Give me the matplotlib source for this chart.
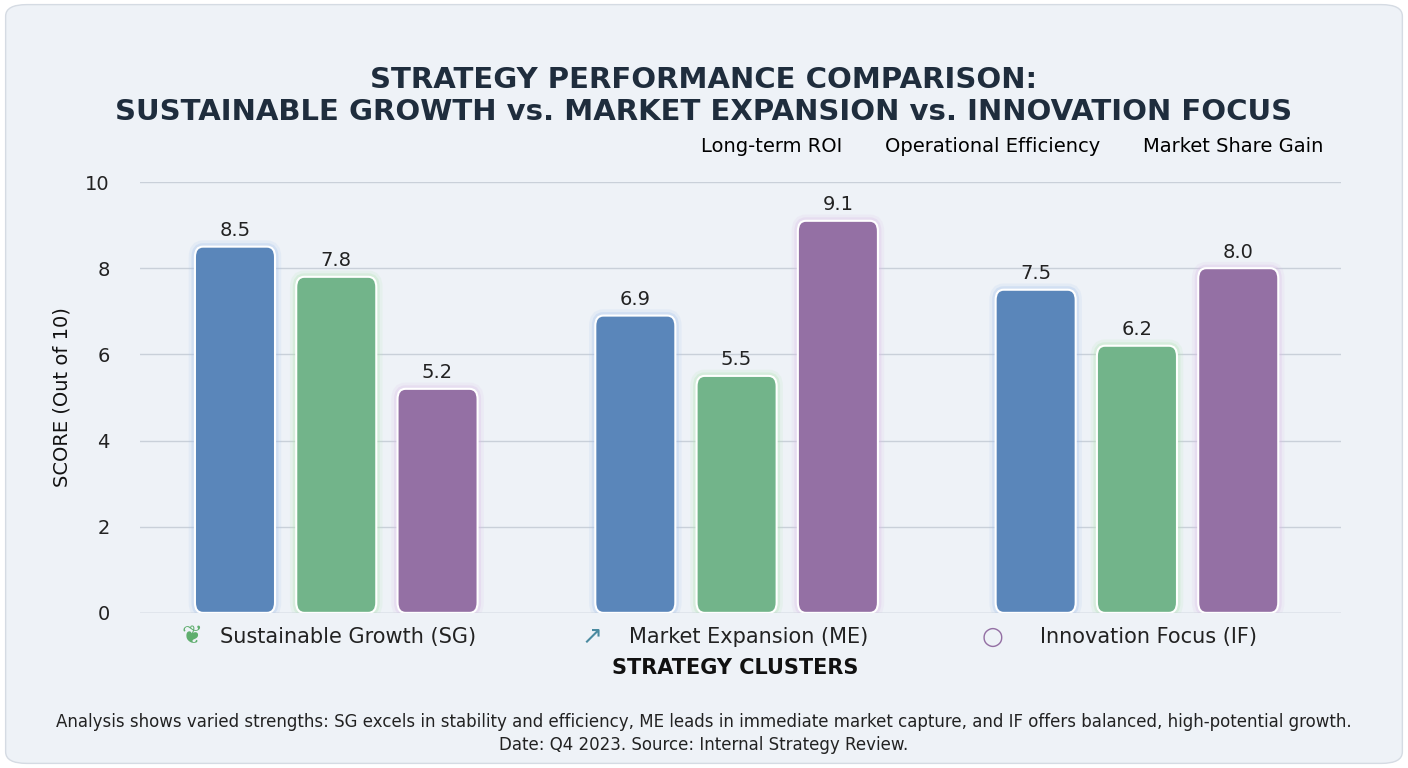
import matplotlib.pyplot as plt
from matplotlib.patches import FancyBboxPatch
import numpy as np

# data
clusters = ["Sustainable Growth (SG)", "Market Expansion (ME)", "Innovation Focus (IF)"]
series = ["Long-term ROI", "Operational Efficiency", "Market Share Gain"]
roi = [8.5, 6.9, 7.5]
efficiency = [7.8, 5.5, 6.2]
share = [5.2, 9.1, 8.0]
colors = ["#5a86ba", "#72b48a", "#9470a4"]
glows = ["#a9c4ee", "#b5e6b5", "#dcbfe8"]

bg = "#eef2f7"
fig = plt.figure(figsize=(14.08, 7.68), dpi=100)
fig.patch.set_facecolor("white")
fig.patches.append(FancyBboxPatch((0.004, 0.006), 0.992, 0.988, boxstyle="round,pad=0,rounding_size=0.015",
                                  transform=fig.transFigure, facecolor=bg, edgecolor="#d5dbe3", lw=1,
                                  zorder=-5))

ax = fig.add_axes([0.0995, 0.202, 0.853, 0.561])
ax.set_facecolor(bg)
x = np.arange(len(clusters))
w = 0.2
off = 0.253
for i, (vals, c, g) in enumerate(zip([roi, efficiency, share], colors, glows)):
    bars = ax.bar(x + (i - 1) * off, vals, w, color=c, label=series[i])
    for b in bars:
        b.set_visible(False)
        bx, bw, bh = b.get_x(), b.get_width(), b.get_height()
        for lw, a in [(9, 0.15), (5, 0.3)]:
            ax.add_patch(FancyBboxPatch((bx, 0), bw, bh, boxstyle="round,pad=0,rounding_size=0.02",
                                        mutation_aspect=12, facecolor="none", edgecolor=g, lw=lw, alpha=a, zorder=2))
        ax.add_patch(FancyBboxPatch((bx, 0), bw, bh, boxstyle="round,pad=0,rounding_size=0.02",
                                    mutation_aspect=12, facecolor=c, edgecolor="white", lw=1.5, zorder=3))
        ax.text(bx + bw / 2, bh + 0.15, f"{bh:.1f}", ha="center", va="bottom", fontsize=14, color="#222222", zorder=4)

ax.set_xlim(-0.49, 2.51)
ax.set_ylim(0, 10)
ax.set_yticks(range(0, 11, 2))
ax.tick_params(axis="y", labelsize=14, length=0, pad=22, colors="#222222")
ax.tick_params(axis="x", length=0)
ax.set_xticks(x)
ax.set_xticklabels([])
ax.grid(axis="y", color="#c9d0d9", lw=1)
ax.set_axisbelow(True)
for s in ax.spines.values():
    s.set_visible(False)
ax.axhline(0, color="#c9d0d9", lw=1)

icons = ["\u2766", "\u2197", "\u25cb"]
icon_cols = ["#5fae6e", "#4a8aa0", "#9470a4"]
for xi, lab, ic, icc in zip(x, clusters, icons, icon_cols):
    ax.text(xi + 0.03, -0.55, lab, ha="center", va="center", fontsize=15, color="#222222")
    ax.text(xi - 0.36, -0.55, ic, ha="center", va="center", fontsize=18, color=icc)

ax.set_ylabel("SCORE (Out of 10)", fontsize=14, color="#111111", labelpad=10)
fig.text(0.522, 0.122, "STRATEGY CLUSTERS", ha="center", fontsize=15, fontweight="bold", color="#111111")

fig.text(0.5, 0.875, "STRATEGY PERFORMANCE COMPARISON:\nSUSTAINABLE GROWTH vs. MARKET EXPANSION vs. INNOVATION FOCUS",
         ha="center", va="center", fontsize=21, fontweight="bold", color="#1f2d3d", linespacing=1.15)

ax.legend(loc="lower right", bbox_to_anchor=(1.0, 1.02), ncol=3, frameon=False, fontsize=14,
          handlelength=0.7, handleheight=0.7, columnspacing=1.0, handletextpad=0.5)

fig.text(0.5, 0.045, "Analysis shows varied strengths: SG excels in stability and efficiency, ME leads in immediate market capture, "
         "and IF offers balanced, high-potential growth.\nDate: Q4 2023. Source: Internal Strategy Review.",
         ha="center", va="center", fontsize=12, color="#222222", linespacing=1.3)

fig.savefig("out.png", dpi=100, facecolor="white")
